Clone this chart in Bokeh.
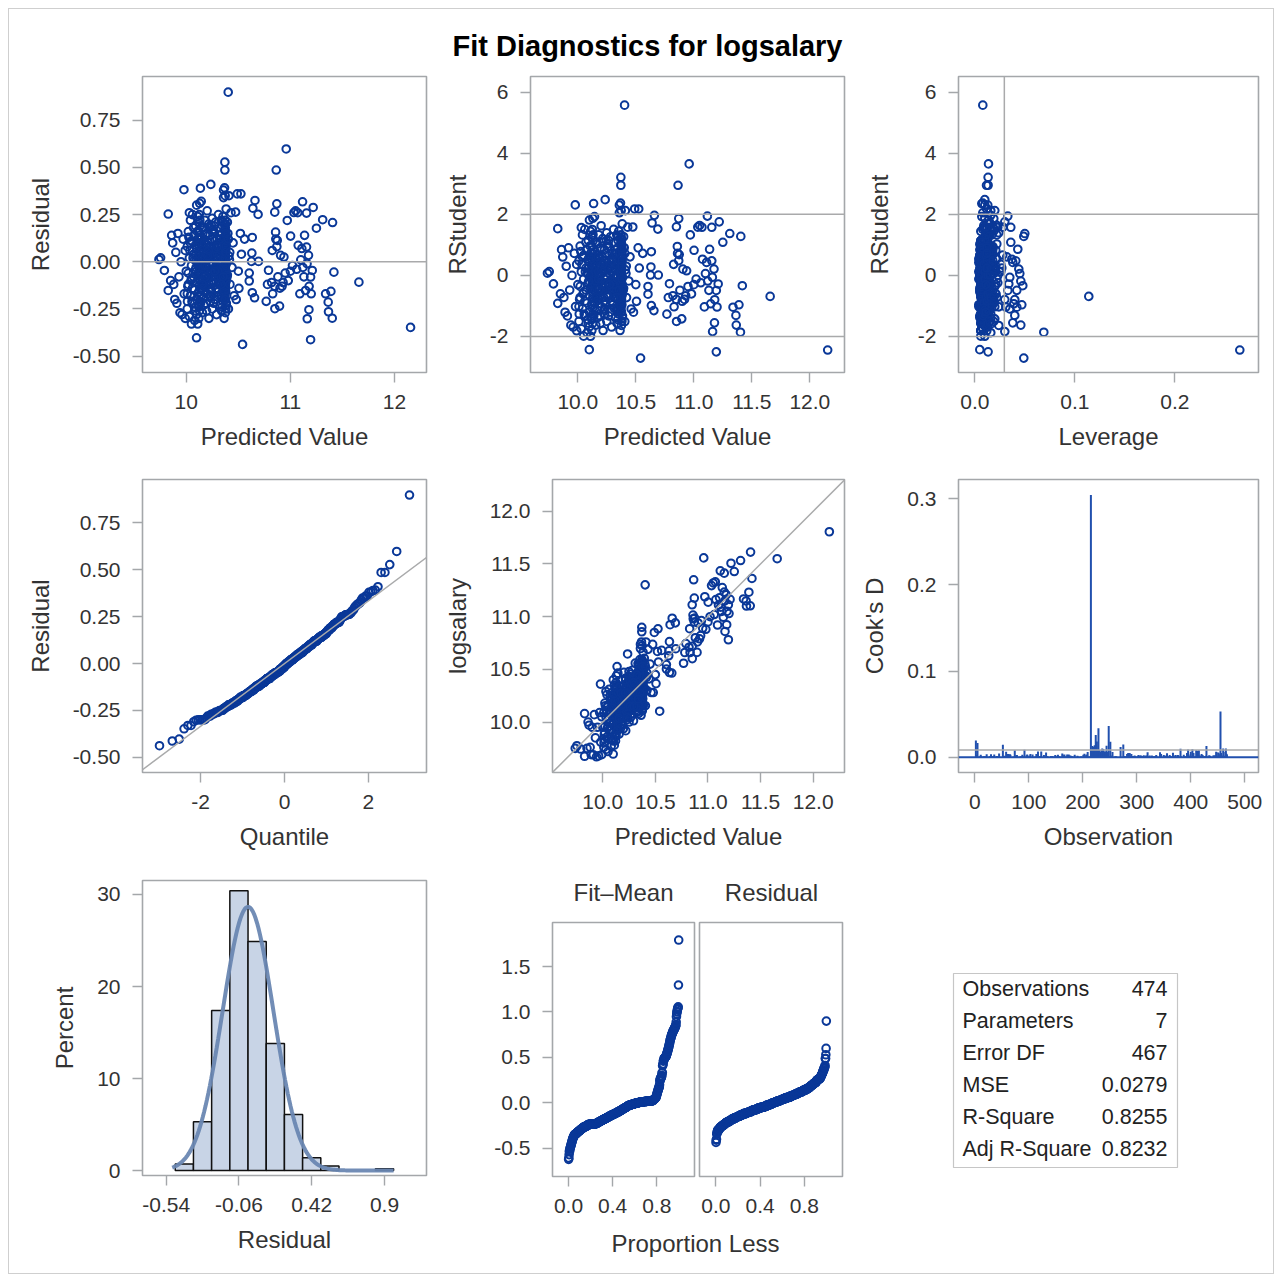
import math
from statistics import NormalDist
import numpy as np
from bokeh.plotting import figure
from bokeh.layouts import row, column
from bokeh.models import Range1d, FixedTicker, Span, Slope
from bokeh.core.properties import value
from bokeh.embed import file_html
from bokeh.resources import INLINE

# ---------------- fit statistics (table) ----------------
N_OBS = 474
N_PARAM = 7
MSE = 0.0279
stat_names = ["Observations", "Parameters", "Error DF", "MSE", "R-Square", "Adj R-Square"]
stat_values = ["474", "7", "467", "0.0279", "0.8255", "0.8232"]

# ---------------- observations ----------------
# upper / sparse points: predicted value, residual, leverage, observation number
upper_pred = [12.154, 11.658, 11.418, 11.405, 11.402, 11.389, 11.366, 11.363, 11.338, 11.310,
              11.250, 11.219, 11.210, 11.194, 11.194, 11.178, 11.174, 11.162, 11.155, 11.155,
              11.146, 11.136, 11.117, 11.091, 11.075, 11.034, 11.002, 10.970, 10.960, 10.938,
              10.906, 10.874, 10.870, 10.864, 10.858, 10.850, 10.826, 10.896, 10.851, 10.790,
              10.820, 10.850, 10.880, 10.920, 10.950, 10.980, 11.020, 11.060, 11.100, 11.130,
              11.180, 11.200, 10.768, 10.656, 10.634, 10.506, 10.605, 10.605, 10.627, 10.694,
              10.630, 10.634, 10.660, 10.640, 10.690, 10.541, 10.490, 10.525, 10.474, 10.403,
              10.371, 10.371, 11.120, 11.160, 10.780, 10.830, 10.900, 11.050, 11.070, 10.860,
              11.110, 10.870, 11.000, 10.930, 10.520, 10.560, 10.500, 10.530, 10.480]
upper_resid = [-0.348, -0.108, -0.055, 0.208, -0.299, -0.157, -0.265, -0.214, -0.170, 0.223,
               0.178, 0.288, -0.046, -0.081, -0.413, -0.254, 0.034, -0.302, 0.258, 0.078,
               -0.152, 0.140, 0.318, -0.170, 0.087, 0.261, 0.136, 0.219, 0.598, 0.025,
               0.034, 0.113, 0.307, 0.486, 0.157, 0.263, 0.060, -0.235, -0.249, -0.045,
               -0.110, -0.130, -0.080, -0.130, -0.060, -0.100, -0.020, -0.040, 0.010, -0.080,
               -0.130, -0.170, -0.210, -0.191, -0.164, -0.141, -0.102, -0.060, 0.002, 0.002,
               0.046, 0.129, 0.325, 0.284, 0.251, -0.438, 0.360, 0.360, 0.263, 0.899,
               0.528, 0.486, -0.030, -0.010, -0.120, -0.170, -0.140, 0.270, 0.260, 0.120,
               0.070, 0.080, -0.050, -0.110, 0.150, 0.120, -0.050, 0.040, -0.200]
upper_lev = [0.265, 0.114, 0.048, 0.049, 0.069, 0.047, 0.046, 0.040, 0.042, 0.050,
             0.036, 0.030, 0.034, 0.033, 0.0133, 0.038, 0.044, 0.030, 0.036, 0.041,
             0.039, 0.043, 0.033, 0.024, 0.037, 0.022, 0.021, 0.022, 0.0137, 0.020,
             0.019, 0.018, 0.019, 0.0117, 0.018, 0.018, 0.017, 0.020, 0.019, 0.016,
             0.017, 0.018, 0.018, 0.019, 0.020, 0.021, 0.022, 0.023, 0.045, 0.042,
             0.040, 0.031, 0.016, 0.014, 0.014, 0.012, 0.013, 0.013, 0.013, 0.015,
             0.013, 0.014, 0.016, 0.015, 0.015, 0.049, 0.012, 0.012, 0.011, 0.008,
             0.0133, 0.0133, 0.046, 0.035, 0.016, 0.017, 0.019, 0.022, 0.023, 0.018,
             0.038, 0.018, 0.021, 0.019, 0.012, 0.012, 0.011, 0.012, 0.011]
upper_obs = [215, 216, 230, 220, 248, 232, 251, 236, 240, 222,
             255, 225, 258, 262, 270, 244, 266, 275, 218, 280,
             284, 287, 226, 290, 293, 228, 296, 233, 224, 300,
             305, 310, 238, 52, 313, 242, 318, 320, 246, 325,
             330, 335, 340, 253, 257, 260, 263, 268, 272, 277,
             282, 286, 345, 350, 355, 360, 365, 370, 375, 380,
             385, 390, 395, 400, 405, 455, 410, 415, 420, 229,
             2, 5, 291, 295, 298, 303, 308, 231, 235, 312,
             316, 322, 327, 332, 425, 430, 435, 440, 445]

# dense cloud, by band of predicted value
bandL_pred = [9.738, 9.754, 9.790, 9.827, 9.827, 9.850, 9.860, 9.870, 9.880, 9.890,
              9.900, 9.910, 9.920, 9.930, 9.940, 9.950, 9.960, 9.970, 9.978, 9.980,
              9.990, 9.990]
bandL_resid = [0.012, 0.021, -0.046, -0.152, 0.253, -0.10, 0.14, 0.10, -0.12, -0.20,
               0.05, -0.22, 0.15, -0.08, -0.27, 0.00, -0.28, 0.12, 0.382, -0.17,
               -0.30, 0.06]
bandL_lev = [0.018, 0.021, 0.016, 0.012, 0.019, 0.011, 0.014, 0.010, 0.009, 0.013,
             0.008, 0.012, 0.015, 0.007, 0.011, 0.009, 0.013, 0.008, 0.010, 0.006,
             0.012, 0.009]
bandL_obs = [3, 14, 27, 41, 58, 71, 86, 99, 113, 128, 146, 163, 178, 194, 203, 342, 367,
             388, 412, 433, 451, 468]

band1_pred = [10.00, 10.01, 10.01, 10.02, 10.02, 10.03, 10.03, 10.04, 10.04, 10.05,
              10.05, 10.06, 10.06, 10.07, 10.07, 10.08, 10.08, 10.08, 10.09, 10.09,
              10.09, 10.10, 10.10, 10.10, 10.10, 10.11, 10.11, 10.11, 10.11, 10.12,
              10.12, 10.12, 10.03, 10.05, 10.07, 10.02, 10.04, 10.06, 10.08, 10.10,
              10.12, 10.01, 10.09, 10.11, 10.099]
band1_resid = [-0.05, 0.08, -0.25, 0.16, -0.12, 0.02, -0.29, 0.22, -0.18, -0.02,
               0.11, -0.22, 0.25, -0.08, 0.04, -0.31, 0.14, -0.15, 0.19, -0.04,
               -0.26, 0.07, -0.11, 0.30, -0.20, 0.00, -0.33, 0.12, -0.07, 0.21,
               -0.16, 0.05, 0.26, -0.33, 0.18, -0.06, 0.10, -0.14, 0.01, -0.28,
               -0.24, -0.17, 0.09, 0.24, -0.403]
band1_lev = [0.007, 0.005, 0.009, 0.006, 0.011, 0.004, 0.008, 0.013, 0.006, 0.010,
             0.005, 0.007, 0.012, 0.006, 0.009, 0.016, 0.005, 0.008, 0.007, 0.011,
             0.006, 0.004, 0.009, 0.014, 0.007, 0.005, 0.010, 0.006, 0.008, 0.012,
             0.005, 0.007, 0.009, 0.006, 0.013, 0.008, 0.005, 0.010, 0.006, 0.007,
             0.011, 0.004, 0.008, 0.006, 0.005]
band1_obs = [1, 7, 11, 16, 21, 25, 30, 36, 39, 44, 49, 55, 60, 64, 68, 74, 80, 84, 89, 95,
             101, 106, 111, 117, 121, 126, 132, 137, 143, 149, 153, 159, 166, 171, 176,
             182, 187, 192, 198, 201, 207, 213, 348, 457, 466]

band2_pred = [10.121, 10.122, 10.124, 10.125, 10.126, 10.127, 10.128, 10.129, 10.130, 10.131,
              10.122, 10.123, 10.125, 10.126, 10.127, 10.128, 10.129, 10.130, 10.131, 10.132,
              10.123, 10.124, 10.126, 10.127, 10.128, 10.129, 10.130, 10.131, 10.133, 10.134,
              10.125, 10.129, 10.136]
band2_resid = [-0.30, 0.16, -0.23, 0.05, -0.18, -0.16, 0.12, -0.12, -0.10, 0.22,
               -0.07, -0.06, 0.02, -0.04, -0.26, -0.02, -0.01, 0.10, 0.01, -0.21,
               0.03, -0.05, 0.06, 0.08, -0.09, 0.00, 0.14, -0.03, 0.19, -0.14,
               0.25, 0.31, 0.39]
band2_lev = [0.006, 0.009, 0.005, 0.012, 0.007, 0.004, 0.010, 0.006, 0.008, 0.015,
             0.005, 0.007, 0.011, 0.006, 0.009, 0.004, 0.008, 0.013, 0.005, 0.007,
             0.010, 0.006, 0.018, 0.008, 0.005, 0.011, 0.007, 0.009, 0.006, 0.014,
             0.008, 0.010, 0.007]
band2_obs = [4, 10, 17, 23, 29, 35, 42, 48, 54, 62, 69, 76, 83, 91, 97, 104, 110, 119, 125,
             134, 140, 147, 155, 161, 168, 175, 184, 191, 197, 353, 372, 393, 448]

band3_pred = [10.141, 10.143, 10.146, 10.148, 10.150, 10.152, 10.155, 10.157, 10.159, 10.162,
              10.164, 10.166, 10.169, 10.171, 10.173, 10.176, 10.178, 10.180, 10.183, 10.185,
              10.187, 10.190, 10.192, 10.194, 10.197, 10.199, 10.201, 10.204, 10.206, 10.208,
              10.211, 10.213, 10.215, 10.218, 10.220, 10.222, 10.225, 10.227, 10.229, 10.232,
              10.234, 10.236, 10.239, 10.241, 10.243, 10.246, 10.248, 10.250, 10.253, 10.255,
              10.257, 10.259, 10.144, 10.161, 10.179, 10.196, 10.214, 10.231, 10.249, 10.153,
              10.188, 10.223, 10.242, 10.170, 10.205, 10.238, 10.258]
band3_resid = [-0.02, 0.07, -0.15, 0.13, -0.06, 0.02, -0.27, 0.09, -0.10, 0.18,
               -0.04, 0.05, -0.19, -0.08, 0.11, 0.00, -0.13, 0.22, -0.01, -0.07,
               0.04, -0.22, 0.15, -0.11, 0.06, -0.03, 0.27, -0.17, 0.01, -0.09,
               0.10, -0.05, 0.20, -0.30, 0.03, -0.12, 0.08, -0.02, 0.14, -0.21,
               -0.06, 0.41, 0.05, -0.15, -0.08, 0.12, -0.01, -0.25, 0.07, 0.17,
               -0.04, -0.10, 0.32, -0.14, 0.02, -0.09, 0.06, -0.18, 0.23, -0.03,
               0.09, -0.07, 0.00, -0.23, 0.11, -0.05, 0.04]
band3_lev = [0.008, 0.005, 0.011, 0.007, 0.013, 0.006, 0.009, 0.004, 0.010, 0.007,
             0.015, 0.006, 0.008, 0.012, 0.005, 0.009, 0.007, 0.017, 0.006, 0.010,
             0.008, 0.005, 0.011, 0.007, 0.014, 0.006, 0.009, 0.020, 0.005, 0.008,
             0.012, 0.007, 0.010, 0.006, 0.016, 0.009, 0.005, 0.011, 0.007, 0.013,
             0.008, 0.010, 0.006, 0.019, 0.007, 0.009, 0.005, 0.012, 0.008, 0.022,
             0.006, 0.010, 0.007, 0.014, 0.005, 0.009, 0.011, 0.006, 0.024, 0.008,
             0.012, 0.007, 0.010, 0.006, 0.015, 0.009, 0.005]
band3_obs = [6, 9, 12, 15, 18, 20, 22, 24, 26, 28, 31, 32, 34, 37, 38, 40, 43, 45, 46, 50,
             51, 53, 56, 57, 59, 63, 65, 66, 67, 70, 72, 73, 75, 78, 79, 81, 82, 85, 87, 88,
             90, 92, 94, 96, 98, 100, 102, 103, 105, 107, 109, 112, 114, 115, 116, 118, 120,
             122, 123, 127, 129, 130, 131, 133, 135, 136, 138]

band4_pred = [10.262, 10.264, 10.267, 10.269, 10.272, 10.274, 10.277, 10.279, 10.282, 10.284,
              10.287, 10.289, 10.292, 10.294, 10.297, 10.299, 10.302, 10.304, 10.307, 10.309,
              10.312, 10.314, 10.317, 10.319, 10.322, 10.324, 10.327, 10.329, 10.266, 10.281,
              10.296, 10.311, 10.326]
band4_resid = [0.03, -0.11, 0.16, -0.05, 0.08, -0.20, 0.01, -0.08, 0.21, -0.14,
               0.05, -0.02, -0.28, 0.12, -0.06, 0.09, -0.16, 0.02, -0.10, 0.25,
               -0.04, 0.06, -0.12, 0.14, -0.01, -0.23, 0.10, -0.07, 0.19, -0.03,
               0.04, -0.09, 0.00]
band4_lev = [0.009, 0.006, 0.012, 0.008, 0.016, 0.007, 0.010, 0.005, 0.013, 0.008,
             0.021, 0.006, 0.011, 0.009, 0.007, 0.014, 0.008, 0.025, 0.006, 0.010,
             0.012, 0.007, 0.018, 0.009, 0.006, 0.011, 0.008, 0.015, 0.010, 0.007,
             0.027, 0.009, 0.012]
band4_obs = [139, 142, 144, 145, 148, 150, 151, 152, 154, 156, 158, 160, 162, 164, 165, 167,
             169, 170, 172, 174, 177, 179, 180, 181, 183, 185, 186, 188, 190, 193, 195, 196, 199]

band5_pred = [10.331, 10.334, 10.336, 10.333, 10.338, 10.341, 10.339, 10.343, 10.345, 10.342,
              10.347, 10.349, 10.346, 10.351, 10.353, 10.350, 10.355, 10.352, 10.357, 10.359,
              10.356, 10.361, 10.358, 10.362, 10.360, 10.364, 10.363, 10.366, 10.365, 10.367,
              10.368, 10.366, 10.369, 10.332, 10.337, 10.344, 10.348, 10.354, 10.358, 10.363,
              10.369, 10.340, 10.352, 10.361]
band5_resid = [-0.06, 0.12, -0.18, 0.03, -0.01, 0.08, -0.26, 0.15, -0.09, 0.00,
               0.19, -0.13, 0.05, -0.04, 0.24, -0.21, 0.07, -0.07, 0.02, -0.15,
               0.11, -0.02, 0.34, -0.10, 0.04, -0.30, 0.13, -0.05, 0.09, -0.17,
               0.01, -0.11, 0.17, -0.08, 0.06, -0.24, 0.21, -0.03, 0.38, -0.12,
               0.10, -0.06, 0.02, -0.19]
band5_lev = [0.010, 0.007, 0.014, 0.009, 0.012, 0.006, 0.017, 0.008, 0.011, 0.023,
             0.007, 0.010, 0.013, 0.008, 0.019, 0.006, 0.012, 0.009, 0.015, 0.007,
             0.028, 0.010, 0.008, 0.013, 0.011, 0.006, 0.016, 0.009, 0.021, 0.008,
             0.012, 0.007, 0.014, 0.010, 0.026, 0.009, 0.011, 0.008, 0.013, 0.018,
             0.007, 0.012, 0.010, 0.015]
band5_obs = [200, 202, 204, 205, 206, 208, 209, 210, 211, 212, 214, 337, 339, 341, 343, 344,
             346, 347, 349, 351, 352, 354, 356, 358, 359, 361, 362, 363, 364, 366, 368, 369,
             371, 373, 374, 376, 377, 378, 381, 382, 383, 384, 386, 387]

band6_pred = [10.370, 10.372, 10.371, 10.374, 10.373, 10.376, 10.375, 10.377, 10.378, 10.376,
              10.379, 10.380, 10.378, 10.381, 10.382, 10.380, 10.383, 10.384, 10.382, 10.385,
              10.371, 10.373, 10.375, 10.377, 10.379, 10.381, 10.383, 10.372, 10.374, 10.376,
              10.378, 10.380, 10.382, 10.384, 10.370, 10.373, 10.377, 10.379, 10.381, 10.383,
              10.368, 10.375, 10.379, 10.384]
band6_resid = [0.05, -0.14, 0.10, -0.03, 0.22, -0.20, 0.01, -0.08, 0.16, -0.27,
               0.07, -0.11, 0.03, -0.05, 0.13, -0.16, 0.28, -0.01, 0.09, -0.22,
               0.04, -0.09, 0.18, -0.13, 0.00, -0.06, 0.11, -0.18, 0.35, -0.04,
               0.06, -0.25, 0.14, -0.07, 0.02, -0.12, 0.20, -0.02, 0.08, -0.10,
               0.392, -0.15, 0.05, -0.23]
band6_lev = [0.011, 0.008, 0.015, 0.010, 0.013, 0.007, 0.019, 0.009, 0.012, 0.024,
             0.008, 0.011, 0.014, 0.009, 0.017, 0.007, 0.013, 0.010, 0.022, 0.008,
             0.012, 0.016, 0.009, 0.030, 0.011, 0.008, 0.014, 0.010, 0.020, 0.009,
             0.013, 0.007, 0.018, 0.011, 0.026, 0.010, 0.012, 0.009, 0.015, 0.021,
             0.008, 0.013, 0.011, 0.016]
band6_obs = [389, 391, 392, 394, 396, 397, 398, 399, 402, 403, 404, 406, 407, 408, 409, 411,
             413, 414, 416, 417, 418, 419, 421, 422, 424, 426, 427, 428, 429, 431, 432, 434,
             436, 437, 438, 439, 442, 443, 444, 446, 447, 449, 450, 452]

band7_pred = [10.392, 10.400, 10.405, 10.410, 10.420, 10.430, 10.440, 10.450, 10.460, 10.410, 10.395]
band7_resid = [-0.08, 0.15, -0.25, 0.03, -0.12, 0.26, -0.03, 0.10, -0.18, 0.35, 0.21]
band7_lev = [0.012, 0.018, 0.015, 0.010, 0.022, 0.028, 0.013, 0.032, 0.035, 0.016, 0.014]
band7_obs = [453, 454, 456, 458, 459, 460, 461, 463, 464, 465, 467]

# extra points filling the core of the cloud
band8_pred = [10.015, 10.035, 10.055, 10.075, 10.095, 10.115, 10.145, 10.165, 10.185, 10.205,
              10.225, 10.245, 10.265, 10.285, 10.305, 10.325, 10.345, 10.365, 10.395, 10.415,
              10.025, 10.045, 10.065, 10.085, 10.105, 10.155, 10.175, 10.195, 10.215, 10.235,
              10.255, 10.275, 10.295, 10.315, 10.335, 10.355, 10.375, 10.405, 10.012, 10.052,
              10.092, 10.138, 10.178, 10.218, 10.258, 10.298, 10.338, 10.378, 10.418, 10.232]
band8_resid = [-0.13, 0.06, -0.21, 0.14, -0.03, 0.09, -0.18, 0.17, -0.08, 0.03,
               -0.14, 0.19, -0.22, 0.07, -0.05, 0.12, -0.19, 0.20, -0.07, 0.01,
               0.13, -0.10, 0.02, -0.24, 0.16, -0.12, 0.10, -0.26, 0.06, -0.16,
               0.15, -0.05, 0.08, -0.18, 0.22, -0.08, -0.20, 0.12, -0.21, -0.09,
               0.04, -0.22, -0.02, 0.18, -0.11, -0.15, -0.12, 0.15, 0.05, -0.19]
band8_lev = [0.008, 0.011, 0.006, 0.009, 0.013, 0.007, 0.010, 0.005, 0.012, 0.008,
             0.014, 0.006, 0.009, 0.011, 0.007, 0.016, 0.008, 0.010, 0.012, 0.018,
             0.009, 0.006, 0.010, 0.007, 0.013, 0.008, 0.011, 0.006, 0.009, 0.015,
             0.007, 0.010, 0.012, 0.008, 0.011, 0.006, 0.009, 0.014, 0.010, 0.007,
             0.012, 0.008, 0.010, 0.006, 0.013, 0.009, 0.011, 0.007, 0.016, 0.010]
band8_obs = [8, 13, 19, 33, 47, 61, 77, 93, 108, 124, 141, 157, 173, 189,
             301, 302, 304, 306, 307, 309, 311, 314, 315, 317, 319, 321, 323, 324, 326, 328,
             329, 331, 333, 334, 336, 217, 219, 221, 223, 227, 234, 237, 239, 241, 243, 245,
             247, 249, 250, 252]

# residual histogram (percent per bin, bin width 0.12)
hist_mid = [-0.42, -0.30, -0.18, -0.06, 0.06, 0.18, 0.30, 0.42, 0.54, 0.90]
hist_pct = [0.7, 5.3, 17.4, 30.4, 24.9, 13.8, 6.1, 1.4, 0.5, 0.2]
HIST_BIN = 0.12

# ---------------- derived diagnostics ----------------
groups_pred = [bandL_pred, band1_pred, band2_pred, band3_pred, band4_pred, band5_pred,
               band6_pred, band7_pred, band8_pred, upper_pred]
groups_resid = [bandL_resid, band1_resid, band2_resid, band3_resid, band4_resid, band5_resid,
                band6_resid, band7_resid, band8_resid, upper_resid]
groups_lev = [bandL_lev, band1_lev, band2_lev, band3_lev, band4_lev, band5_lev,
              band6_lev, band7_lev, band8_lev, upper_lev]
groups_obs = [bandL_obs, band1_obs, band2_obs, band3_obs, band4_obs, band5_obs,
              band6_obs, band7_obs, band8_obs, upper_obs]
P, R, H, O = [], [], [], []
for gp, gr, gh, go in zip(groups_pred, groups_resid, groups_lev, groups_obs):
    m = min(len(gp), len(gr), len(gh), len(go))
    P += gp[:m]; R += gr[:m]; H += gh[:m]; O += go[:m]
pred = np.array(P); resid = np.array(R); lev = np.array(H); obs = np.array(O)

s = math.sqrt(MSE)
df_err = N_OBS - N_PARAM
r_int = resid / (s * np.sqrt(1 - lev))
rstud = r_int * np.sqrt((df_err - 1) / (df_err - r_int ** 2))
cooks = r_int ** 2 * lev / (N_PARAM * (1 - lev))
logsal = pred + resid
n = len(resid)
nd = NormalDist()
res_sorted = np.sort(resid)
qq_x = np.array([nd.inv_cdf((i + 1 - 0.375) / (n + 0.25)) for i in range(n)])
prop = (np.arange(n) + 0.5) / n
fit_mean = np.sort(pred) - logsal.mean()
lev_cut = 2 * N_PARAM / N_OBS
cook_cut = 4 / N_OBS
curve_x = np.linspace(-0.50, 0.96, 160)
curve_y = np.array([100 * HIST_BIN * NormalDist(0, s).pdf(v) for v in curve_x])

# ---------------- styling ----------------
FONT = "Liberation Sans"
TXT = "#333333"
FRAME = "#a4a7aa"
REF = "#a9aaab"
BLUE = "#0a3898"
NEEDLE = "#2150ae"


def make_fig(w, h, xr, yr, bl, br, bt, bb, yaxis=True):
    kw = {}
    if not yaxis:
        kw["y_axis_type"] = None
    p = figure(width=w, height=h, x_range=Range1d(*xr), y_range=Range1d(*yr),
               output_backend="svg", toolbar_location=None,
               min_border_left=bl, min_border_right=br, min_border_top=bt,
               min_border_bottom=bb, **kw)
    p.outline_line_color = FRAME
    p.outline_line_width = 1.6
    p.grid.visible = False
    p.background_fill_color = "white"
    p.border_fill_color = "white"
    for ax in list(p.xaxis) + list(p.yaxis):
        ax.axis_line_color = None
        ax.major_tick_line_color = FRAME
        ax.major_tick_line_width = 1.4
        ax.major_tick_out = 10
        ax.major_tick_in = 0
        ax.minor_tick_line_color = None
        ax.major_label_text_font = FONT
        ax.major_label_text_font_size = "21px"
        ax.major_label_text_color = TXT
        ax.major_label_standoff = 12
        ax.axis_label_text_font = FONT
        ax.axis_label_text_font_size = "24px"
        ax.axis_label_text_font_style = "normal"
        ax.axis_label_text_color = TXT
    for ax in p.xaxis:
        ax.axis_label_standoff = 11
    for ax in p.yaxis:
        ax.axis_label_standoff = 16
    return p


def set_ticks(ax, ticks, labels, title):
    ax.ticker = FixedTicker(ticks=ticks)
    ax.major_label_overrides = {t: l for t, l in zip(ticks, labels)}
    ax.axis_label = title


def dots(p, x, y):
    p.scatter(x, y, marker="circle", size=7.6, fill_color=None,
              line_color=BLUE, line_width=2.0)


def text_fig(w, h):
    p = figure(width=w, height=h, x_range=Range1d(0, w), y_range=Range1d(h, 0),
               output_backend="svg", toolbar_location=None,
               x_axis_type=None, y_axis_type=None, min_border=0)
    p.outline_line_color = None
    p.grid.visible = False
    return p


res_ticks = [-0.5, -0.25, 0.0, 0.25, 0.5, 0.75]
res_labels = ["-0.50", "-0.25", "0.00", "0.25", "0.50", "0.75"]
rst_ticks = [-2, 0, 2, 4, 6]
rst_labels = ["-2", "0", "2", "4", "6"]

# Title
pt = text_fig(1264, 56)
pt.text(x=[638], y=[36], text=["Fit Diagnostics for logsalary"], text_font=value(FONT),
        text_font_size="29px", text_font_style="bold", text_color="#000000",
        text_align="center", text_baseline="middle")

# Row 1  (height 405: top 11, frame 296, bottom 98)
fa = make_fig(431, 405, (9.580, 12.307), (-0.587, 0.982), 133, 14, 11, 98)
set_ticks(fa.xaxis[0], [10, 11, 12], ["10", "11", "12"], "Predicted Value")
set_ticks(fa.yaxis[0], res_ticks, res_labels, "Residual")
fa.add_layout(Span(location=0, dimension="width", line_color=REF, line_width=1.5))
dots(fa, pred, resid)

fb = make_fig(410, 405, (9.592, 12.299), (-3.179, 6.514), 90, 6, 11, 98)
set_ticks(fb.xaxis[0], [10, 10.5, 11, 11.5, 12], ["10.0", "10.5", "11.0", "11.5", "12.0"],
          "Predicted Value")
set_ticks(fb.yaxis[0], rst_ticks, rst_labels, "RStudent")
for v in (-2, 2):
    fb.add_layout(Span(location=v, dimension="width", line_color=REF, line_width=1.5))
dots(fb, pred, rstud)

fc = make_fig(423, 405, (-0.0163, 0.2837), (-3.179, 6.514), 108, 15, 11, 98)
set_ticks(fc.xaxis[0], [0, 0.1, 0.2], ["0.0", "0.1", "0.2"], "Leverage")
set_ticks(fc.yaxis[0], rst_ticks, rst_labels, "RStudent")
fc.yaxis[0].axis_label_standoff = 22
for v in (-2, 2):
    fc.add_layout(Span(location=v, dimension="width", line_color=REF, line_width=1.5))
fc.add_layout(Span(location=lev_cut, dimension="height", line_color=REF, line_width=1.5))
dots(fc, lev, rstud)

# Row 2  (height 396: top 9, frame 293, bottom 94)
fd = make_fig(431, 396, (-3.389, 3.389), (-0.581, 0.982), 133, 14, 9, 94)
set_ticks(fd.xaxis[0], [-2, 0, 2], ["-2", "0", "2"], "Quantile")
set_ticks(fd.yaxis[0], res_ticks, res_labels, "Residual")
fd.add_layout(Slope(gradient=s, y_intercept=0, line_color=REF, line_width=1.5))
dots(fd, qq_x, res_sorted)

fe = make_fig(410, 396, (9.522, 12.298), (9.521, 12.302), 112, 6, 9, 94)
ev = [10, 10.5, 11, 11.5, 12]
el = ["10.0", "10.5", "11.0", "11.5", "12.0"]
set_ticks(fe.xaxis[0], ev, el, "Predicted Value")
set_ticks(fe.yaxis[0], ev, el, "logsalary")
fe.add_layout(Slope(gradient=1, y_intercept=0, line_color=REF, line_width=1.5))
dots(fe, pred, logsal)

ff = make_fig(423, 396, (-30.2, 525.4), (-0.0176, 0.3222), 108, 15, 9, 94)
set_ticks(ff.xaxis[0], [0, 100, 200, 300, 400, 500], ["0", "100", "200", "300", "400", "500"],
          "Observation")
set_ticks(ff.yaxis[0], [0, 0.1, 0.2, 0.3], ["0.0", "0.1", "0.2", "0.3"], "Cook's D")
ff.add_layout(Span(location=cook_cut, dimension="width", line_color=REF, line_width=1.5))
ff.add_layout(Span(location=0, dimension="width", line_color=NEEDLE, line_width=2))
ff.segment(x0=obs, y0=np.zeros(n), x1=obs, y1=cooks, line_color=NEEDLE, line_width=2)

# Row 3  (height 407)
fg = make_fig(431, 407, (-0.696, 1.177), (-0.54, 31.52), 133, 14, 14, 98)
set_ticks(fg.xaxis[0], [-0.54, -0.06, 0.42, 0.9], ["-0.54", "-0.06", "0.42", "0.9"], "Residual")
set_ticks(fg.yaxis[0], [0, 10, 20, 30], ["0", "10", "20", "30"], "Percent")
fg.vbar(x=hist_mid, width=HIST_BIN, top=hist_pct, bottom=0, fill_color="#c8d4e6",
        line_color="#111111", line_width=1.5)
fg.line(curve_x, curve_y, line_color="#6a87b2", line_width=4, line_alpha=0.95)

h1 = make_fig(257, 300, (-0.145, 1.142), (-0.813, 1.985), 112, 3, 1, 45)
set_ticks(h1.xaxis[0], [0, 0.4, 0.8], ["0.0", "0.4", "0.8"], "")
set_ticks(h1.yaxis[0], [-0.5, 0, 0.5, 1.0, 1.5], ["-0.5", "0.0", "0.5", "1.0", "1.5"], "")
dots(h1, prop, fit_mean)

h2 = make_fig(183, 300, (-0.148, 1.145), (-0.813, 1.985), 2, 38, 1, 45, yaxis=False)
set_ticks(h2.xaxis[0], [0, 0.4, 0.8], ["0.0", "0.4", "0.8"], "")
dots(h2, prop, res_sorted)

hh = text_fig(440, 55)
hh.text(x=[183, 331], y=[26, 26], text=["Fit\u2013Mean", "Residual"], text_font=value(FONT),
        text_font_size="24px", text_color=TXT, text_align="center", text_baseline="middle")
hl = text_fig(440, 52)
hl.text(x=[255], y=[22], text=["Proportion Less"], text_font=value(FONT),
        text_font_size="24px", text_color=TXT, text_align="center", text_baseline="middle")
mid3 = column(hh, row(h1, h2), hl)

tb = text_fig(393, 407)
tb.quad(left=[73], right=[297], top=[107], bottom=[301], fill_color=None,
        line_color="#c6c6c6", line_width=1.2)
row_y = [122 + 32 * i for i in range(len(stat_names))]
tb.text(x=[82] * len(stat_names), y=row_y, text=stat_names, text_font=value(FONT),
        text_font_size="21.5px", text_color="#222222", text_align="left", text_baseline="middle")
tb.text(x=[287] * len(stat_values), y=row_y, text=stat_values, text_font=value(FONT),
        text_font_size="21.5px", text_color="#222222", text_align="right", text_baseline="middle")

layout = column(pt, row(fa, fb, fc), row(fd, fe, ff), row(fg, mid3, column(tb)),
                margin=(8, 0, 0, 8), styles={"border": "1px solid #cfcfcf"})

open("out.html", "w").write(file_html(layout, INLINE))
